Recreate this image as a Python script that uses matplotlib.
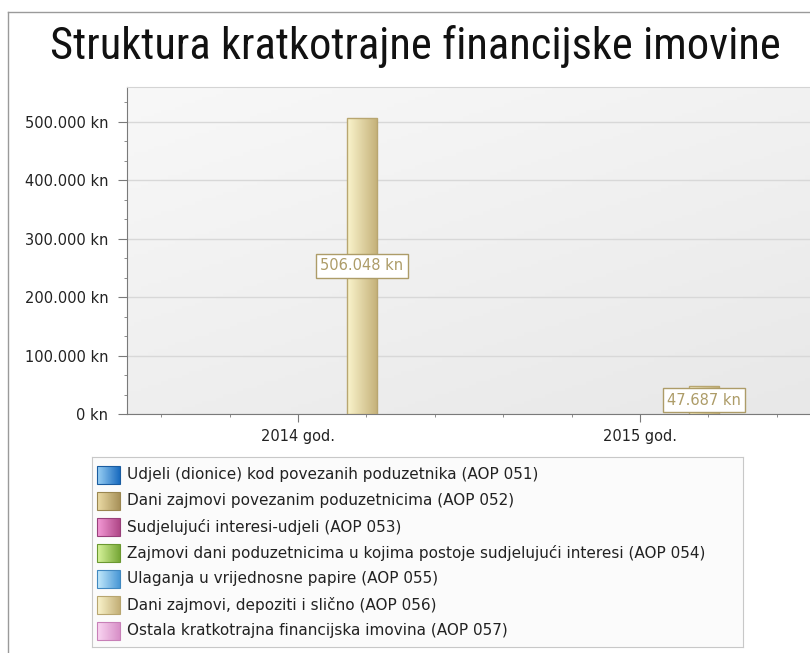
import numpy as np
import matplotlib
matplotlib.use("Agg")
import matplotlib.pyplot as plt
from matplotlib.colors import LinearSegmentedColormap
from matplotlib.lines import Line2D
from matplotlib.patches import Rectangle
from matplotlib.ticker import FuncFormatter, MultipleLocator, FixedLocator
from matplotlib import font_manager

# data
categories = ["2014 god.", "2015 god."]
series_names = [
    "Udjeli (dionice) kod povezanih poduzetnika (AOP 051)",
    "Dani zajmovi povezanim poduzetnicima (AOP 052)",
    "Sudjelujući interesi-udjeli (AOP 053)",
    "Zajmovi dani poduzetnicima u kojima postoje sudjelujući interesi (AOP 054)",
    "Ulaganja u vrijednosne papire (AOP 055)",
    "Dani zajmovi, depoziti i slično (AOP 056)",
    "Ostala kratkotrajna financijska imovina (AOP 057)",
]
values = [
    [0, 0],
    [0, 0],
    [0, 0],
    [0, 0],
    [0, 0],
    [506048, 47687],
    [0, 0],
]
# light -> dark gradient for each series
light_cols = ["#9ad0f4", "#ecdca6", "#f49ad6", "#d8f49c", "#c4eafc", "#faf4cc", "#fad6f2"]
dark_cols = ["#1a6cc0", "#a8925a", "#b04888", "#78a838", "#4a98d6", "#c4b078", "#d890c8"]
edge_cols = ["#1a5ca0", "#9a8650", "#98407a", "#6a9830", "#4088c0", "#b8a670", "#c880b8"]
label_cols = ["#1a6cc0", "#a8925a", "#b04888", "#78a838", "#4a98d6", "#ad9c68", "#c880b8"]


def kn(v, pos=None):
    return "{:,.0f} kn".format(v).replace(",", ".")


plt.rcParams["font.family"] = ["DejaVu Sans"]

W, H = 810, 653
fig = plt.figure(figsize=(W / 100, H / 100), dpi=100)

# outer frame of chart control
fig.add_artist(Line2D([8 / W, 8 / W], [0, 1 - 12 / H], color="#9a9a9a", lw=1))
fig.add_artist(Line2D([8 / W, 1], [1 - 12 / H, 1 - 12 / H], color="#9a9a9a", lw=1))

# narrow font for the title if one is installed
names = {f.name for f in font_manager.fontManager.ttflist}
title_fam = "DejaVu Sans"
for cand in ["Liberation Sans Narrow", "Roboto Condensed", "Open Sans Condensed", "Lato", "Roboto"]:
    if cand in names:
        title_fam = cand
        break
title = fig.text(415 / W, 1 - 46 / H, "Struktura kratkotrajne financijske imovine",
                 ha="center", va="center", fontsize=30, family=title_fam,
                 stretch="condensed", color="#111111")
r = fig.canvas.get_renderer()
tw = title.get_window_extent(r).width
title.set_fontsize(min(32, 30 * 750 / tw))

ax = fig.add_axes([127 / W, 1 - 414 / H, 684 / W, 327 / H])

# plot area background gradient
bg = LinearSegmentedColormap.from_list("bg", ["#f8f8f8", "#e8e8e8"])
yy, xx = np.mgrid[0:1:100j, 0:1:100j]
ax.imshow(0.6 * yy + 0.4 * xx, cmap=bg, extent=[0, 1, 0, 1], transform=ax.transAxes,
          aspect="auto", zorder=0, origin="upper")

ax.grid(axis="y", color="#d8d8d8", lw=1, zorder=1)
ax.set_axisbelow(True)

for s in ["left", "bottom"]:
    ax.spines[s].set_color("#7a7a7a")
ax.spines["top"].set_color("#d4d4d4")
ax.spines["right"].set_visible(False)

ax.yaxis.set_major_locator(MultipleLocator(100000))
ax.yaxis.set_minor_locator(MultipleLocator(100000 / 3))
ax.yaxis.set_major_formatter(FuncFormatter(kn))
ax.xaxis.set_major_locator(FixedLocator(range(len(categories))))
ax.xaxis.set_minor_locator(MultipleLocator(0.2))
ax.set_xticklabels(categories)
ax.tick_params(axis="y", which="major", length=6.5, color="#7a7a7a", pad=7,
               labelsize=10.5, labelcolor="#222222")
ax.tick_params(axis="y", which="minor", length=2.5, color="#7a7a7a")
ax.tick_params(axis="x", which="major", length=6, color="#7a7a7a", pad=5,
               labelsize=10.5, labelcolor="#222222")
ax.tick_params(axis="x", which="minor", length=2.5, color="#7a7a7a")

n = len(series_names)
slot = 0.0934
bw = 0.088
x = np.arange(len(categories))
for i in range(n):
    cmap = LinearSegmentedColormap.from_list("c%d" % i, [light_cols[i], dark_cols[i]])
    pos = x + (i - (n - 1) / 2) * slot
    bars = ax.bar(pos, values[i], width=bw, color=dark_cols[i], lw=0, zorder=3)
    for b, v in zip(bars, values[i]):
        if v <= 0:
            continue
        bx, by = b.get_x(), b.get_y()
        im = ax.imshow(np.linspace(0.1, 1, 64).reshape(1, -1), cmap=cmap, aspect="auto",
                       extent=[bx, bx + b.get_width(), by, by + b.get_height()],
                       zorder=3.5, interpolation="bicubic")
        im.set_clip_path(b)
        ax.add_patch(Rectangle((bx, by), b.get_width(), b.get_height(), fill=False,
                               edgecolor=edge_cols[i], lw=1, zorder=3.6))
        ax.text(b.get_x() + b.get_width() / 2, v / 2, kn(v), ha="center", va="center",
                fontsize=10.5, color=label_cols[i], zorder=5,
                bbox=dict(boxstyle="square,pad=0.3", fc="white", ec=label_cols[i], lw=1))

ax.set_xlim(-0.5, 1.5)
ax.set_ylim(0, 559000)

# legend
lg = fig.add_axes([92 / W, 1 - 647 / H, 651 / W, 190 / H])
lg.set_xticks([])
lg.set_yticks([])
lg.set_facecolor("#fbfbfb")
for s in lg.spines.values():
    s.set_color("#c8c8c8")
for i, name in enumerate(series_names):
    cy = 18 + i * 26
    cmap = LinearSegmentedColormap.from_list("l%d" % i, [light_cols[i], dark_cols[i]])
    lg.imshow(np.linspace(0, 1, 32).reshape(1, -1), cmap=cmap, aspect="auto",
              extent=[5, 28, cy + 9, cy - 9], interpolation="bicubic")
    lg.add_patch(Rectangle((5, cy - 9), 23, 18, fill=False, edgecolor=edge_cols[i], lw=0.8))
    lg.text(35, cy, name, va="center", ha="left", fontsize=11, color="#222222")
lg.set_xlim(0, 651)
lg.set_ylim(190, 0)

fig.savefig("out.png", dpi=100)
